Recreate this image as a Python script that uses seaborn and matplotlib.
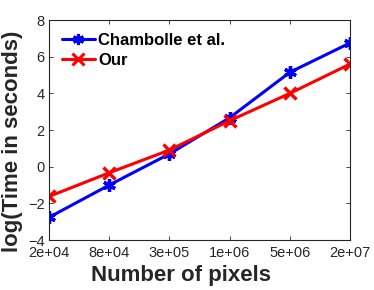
import matplotlib
matplotlib.use("Agg")
import matplotlib.pyplot as plt
from matplotlib.lines import Line2D
import seaborn as sns
import pandas as pd

x_labels = ["2e+04", "8e+04", "3e+05", "1e+06", "5e+06", "2e+07"]
chambolle = [-2.76, -1.0, 0.7, 2.67, 5.15, 6.75]
ours = [-1.62, -0.33, 0.91, 2.51, 4.0, 5.6]
series_names = ["Chambolle et al.", "Our"]
colors = ["#0000ff", "#ff0000"]
marks = [(6, 2, 0), "x"]

sns.set_theme(style="ticks")
plt.rcParams['font.family'] = ['Liberation Sans', 'DejaVu Sans']

df = pd.DataFrame({
    "pos": list(range(len(x_labels))) * 2,
    "val": chambolle + ours,
    "method": [series_names[0]] * len(x_labels) + [series_names[1]] * len(x_labels),
})

fig = plt.figure(figsize=(3.74, 2.9), dpi=100)
ax = fig.add_axes([0.131, 0.172, 0.805, 0.759])

sns.lineplot(data=df, x="pos", y="val", hue="method", style="method",
             palette=dict(zip(series_names, colors)),
             markers=dict(zip(series_names, marks)),
             dashes=False, linewidth=2.2, markersize=9, markeredgewidth=2.4,
             legend=False, ax=ax)
for ln, c in zip(ax.lines, colors):
    ln.set_markeredgecolor(c)

ax.set_xlim(0, 5)
ax.set_ylim(-4, 8)
ax.set_xticks(range(len(x_labels)))
ax.set_xticklabels(x_labels)
ax.set_yticks([-4, -2, 0, 2, 4, 6, 8])
ax.tick_params(direction="in", top=True, right=True, length=3, width=0.6,
               labelsize=10.5, colors="#262626", pad=3)
ax.tick_params(axis="x", pad=4)
for s in ax.spines.values():
    s.set_linewidth(0.8)
    s.set_color("#262626")
ax.set_xlabel("Number of pixels", fontsize=16, fontweight="bold", color="#262626")
ax.set_ylabel("log(Time in seconds)", fontsize=16, fontweight="bold", color="#262626")
ax.xaxis.set_label_coords(0.44, -0.115)
ax.yaxis.set_label_coords(-0.085, 0.45)

handles = [Line2D([], [], color=c, marker=m, linewidth=2.2, markersize=8,
                  markeredgewidth=2.2, markeredgecolor=c)
           for c, m in zip(colors, marks)]
leg = ax.legend(handles, series_names, loc="upper left", frameon=False, fontsize=12,
                handlelength=2.0, handletextpad=0.2, borderaxespad=0.0,
                labelspacing=0.3, bbox_to_anchor=(0.02, 0.97))
for t in leg.get_texts():
    t.set_fontweight("bold")
    t.set_color("black")

fig.savefig("out.png", dpi=100)
